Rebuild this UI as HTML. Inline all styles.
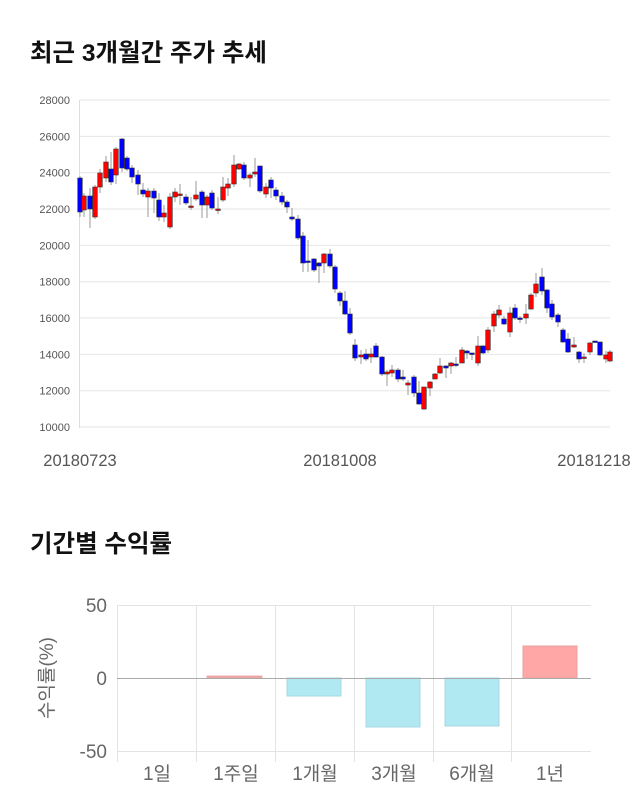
<!DOCTYPE html>
<html><head><meta charset="utf-8"><style>
body{margin:0;background:#fff;width:640px;height:810px;overflow:hidden}
svg{display:block}
</style></head><body>
<svg id="s" width="640" height="810" xmlns="http://www.w3.org/2000/svg" font-family="Liberation Sans, Noto Sans CJK KR, sans-serif">
<text x="30" y="61" font-size="24.5" font-weight="bold" fill="#111" font-family="Liberation Sans, Noto Sans CJK KR, sans-serif">최근 3개월간 주가 추세</text>
<g id="grid"></g>
<line x1="79.5" y1="100" x2="79.5" y2="428" stroke="#ddd"/>
<g font-size="11" fill="#555" text-anchor="end" id="yl"></g>
<g font-size="16.5" fill="#555" text-anchor="middle">
<text x="80" y="466">20180723</text><text x="340" y="466">20181008</text><text x="594" y="466">20181218</text>
</g>
<g id="c"></g>
<text x="30" y="552" font-size="24.5" font-weight="bold" fill="#111" font-family="Liberation Sans, Noto Sans CJK KR, sans-serif">기간별 수익률</text>
<g stroke="#e3e3e3">
<line x1="117" y1="605.5" x2="591" y2="605.5"/><line x1="117" y1="751.5" x2="591" y2="751.5"/>
<line x1="117.5" y1="605" x2="117.5" y2="762"/><line x1="196.5" y1="605" x2="196.5" y2="762"/>
<line x1="275.5" y1="605" x2="275.5" y2="762"/><line x1="354.5" y1="605" x2="354.5" y2="762"/>
<line x1="433.5" y1="605" x2="433.5" y2="762"/><line x1="511.5" y1="605" x2="511.5" y2="762"/>
</g>
<rect x="207" y="676" width="55" height="2" fill="#f4a7a7" stroke="#e8a0a0" stroke-width="0.8"/>
<rect x="287" y="678" width="54" height="18" fill="#b1e9f3" stroke="#a8d8e0"/>
<rect x="366" y="678" width="54" height="49" fill="#b1e9f3" stroke="#a8d8e0"/>
<rect x="445" y="678" width="54" height="48" fill="#b1e9f3" stroke="#a8d8e0"/>
<rect x="523" y="646" width="54" height="32" fill="#ffa6a6" stroke="#eaa0a0"/>
<line x1="117" y1="678.5" x2="591" y2="678.5" stroke="#aaa"/>
<g font-size="19" fill="#666" text-anchor="end">
<text x="107" y="612">50</text><text x="107" y="685">0</text><text x="107" y="758">-50</text>
</g>
<text transform="translate(53,678) rotate(-90)" font-size="19" fill="#666" text-anchor="middle" font-family="Liberation Sans, Noto Sans CJK KR, sans-serif">수익률(%)</text>
<g font-size="19" fill="#666" text-anchor="middle" font-family="Liberation Sans, Noto Sans CJK KR, sans-serif">
<text x="157" y="780">1일</text><text x="236" y="780">1주일</text><text x="315" y="780">1개월</text>
<text x="394" y="780">3개월</text><text x="472" y="780">6개월</text><text x="550" y="780">1년</text>
</g>
</svg>
<script>
var ns="http://www.w3.org/2000/svg";
function el(p,t,a){var e=document.createElementNS(ns,t);for(var k in a)e.setAttribute(k,a[k]);p.appendChild(e);return e;}
var g=document.getElementById('grid'),yl=document.getElementById('yl');
for(var i=0;i<10;i++){var v=28000-i*2000,y=100+i*2000*0.01817;
el(g,'line',{x1:80,x2:610,y1:y,y2:y,stroke:'#e6e6e6'});
var t=el(yl,'text',{x:70,y:y+4});t.textContent=v;}
var d=[[80,178,212,176,217,'b'],[84,196,210,193,217,'r'],[90,196,209,188,228,'b'],[95,187,217,185,219,'r'],[100,173,187,169,193,'r'],[106,162,178,156,182,'r'],[111,169,182,152,185,'b'],[116,149,175,147,184,'r'],[122,139,168,138,172,'b'],[127,158,169,156,171,'b'],[132,168,177,165,183,'b'],[138,175,184,170,195,'b'],[143,190,194,183,197,'b'],[148,191,197,188,217,'r'],[154,191,198,188,213,'b'],[159,200,217,193,221,'b'],[164,213,217,205,222,'r'],[170,197,227,193,229,'r'],[175,192,197,188,202,'r'],[180,194,195,184,205,'r'],[186,197,203,194,205,'b'],[191,206,207,197,210,'r'],[196,195,199,181,201,'r'],[202,192,205,190,218,'b'],[207,197,205,195,218,'r'],[212,193,208,190,210,'b'],[218,209,210,197,214,'r'],[223,187,200,177,202,'r'],[228,184,188,178,196,'r'],[234,165,184,155,187,'r'],[239,164,169,163,170,'r'],[244,165,178,162,180,'b'],[250,175,178,173,187,'r'],[255,172,174,158,177,'r'],[260,166,191,166,193,'b'],[266,187,194,183,198,'r'],[271,180,188,177,198,'b'],[276,190,196,187,200,'b'],[282,196,202,192,205,'b'],[287,202,207,200,213,'b'],[292,217,219,208,221,'b'],[298,219,238,215,240,'b'],[303,236,263,232,272,'b'],[308,261,262,240,272,'b'],[314,259,270,258,272,'b'],[319,263,266,262,283,'b'],[324,254,263,253,273,'r'],[330,254,266,249,268,'b'],[335,267,289,265,293,'b'],[340,293,301,291,306,'b'],[345,301,314,291,315,'b'],[350,314,333,308,335,'b'],[355,345,358,339,361,'b'],[361,355,357,350,364,'r'],[366,354,359,349,361,'b'],[371,354,357,348,363,'r'],[376,346,357,343,358,'b'],[382,357,374,356,376,'b'],[387,372,374,370,386,'r'],[392,370,373,365,377,'r'],[398,370,379,368,382,'b'],[403,377,379,370,381,'b'],[408,383,385,380,395,'r'],[414,377,393,375,397,'b'],[419,393,404,381,405,'b'],[424,387,409,387,410,'r'],[430,382,388,381,396,'r'],[435,374,379,373,379,'r'],[440,366,373,358,374,'r'],[446,366,368,365,378,'b'],[451,363,366,362,374,'r'],[456,364,365,357,367,'b'],[462,350,363,347,363,'r'],[467,351,353,350,359,'b'],[472,353,354,353,360,'b'],[478,346,363,336,366,'r'],[483,346,353,345,354,'b'],[488,330,350,327,353,'r'],[494,314,326,311,332,'r'],[499,310,315,305,318,'r'],[504,319,324,316,325,'b'],[510,313,332,307,337,'r'],[515,308,318,304,320,'b'],[520,318,319,316,323,'b'],[526,314,318,304,324,'r'],[531,295,309,293,310,'r'],[536,284,293,273,297,'r'],[542,277,291,268,295,'b'],[547,290,308,289,313,'b'],[552,304,317,300,320,'b'],[558,315,322,313,327,'b'],[563,330,342,328,343,'b'],[568,339,352,333,353,'b'],[574,345,347,337,348,'r'],[579,352,359,351,363,'b'],[584,357,358,353,363,'r'],[590,343,352,342,355,'r'],[595,341,342,341,342,'b'],[600,342,355,342,356,'b'],[606,355,359,351,363,'r'],[610,352,361,350,362,'r']];
var c=document.getElementById('c');
d.forEach(function(a){
el(c,'line',{x1:a[0],x2:a[0],y1:a[3],y2:a[4],stroke:'#999','stroke-width':1});
var h=Math.max(a[2]-a[1],1.5);
el(c,'rect',{x:a[0]-2.3,y:a[1],width:4.6,height:h,fill:a[5]=='r'?'#f00':'#00f',stroke:'#333','stroke-width':0.6});
});
</script>
</body></html>
